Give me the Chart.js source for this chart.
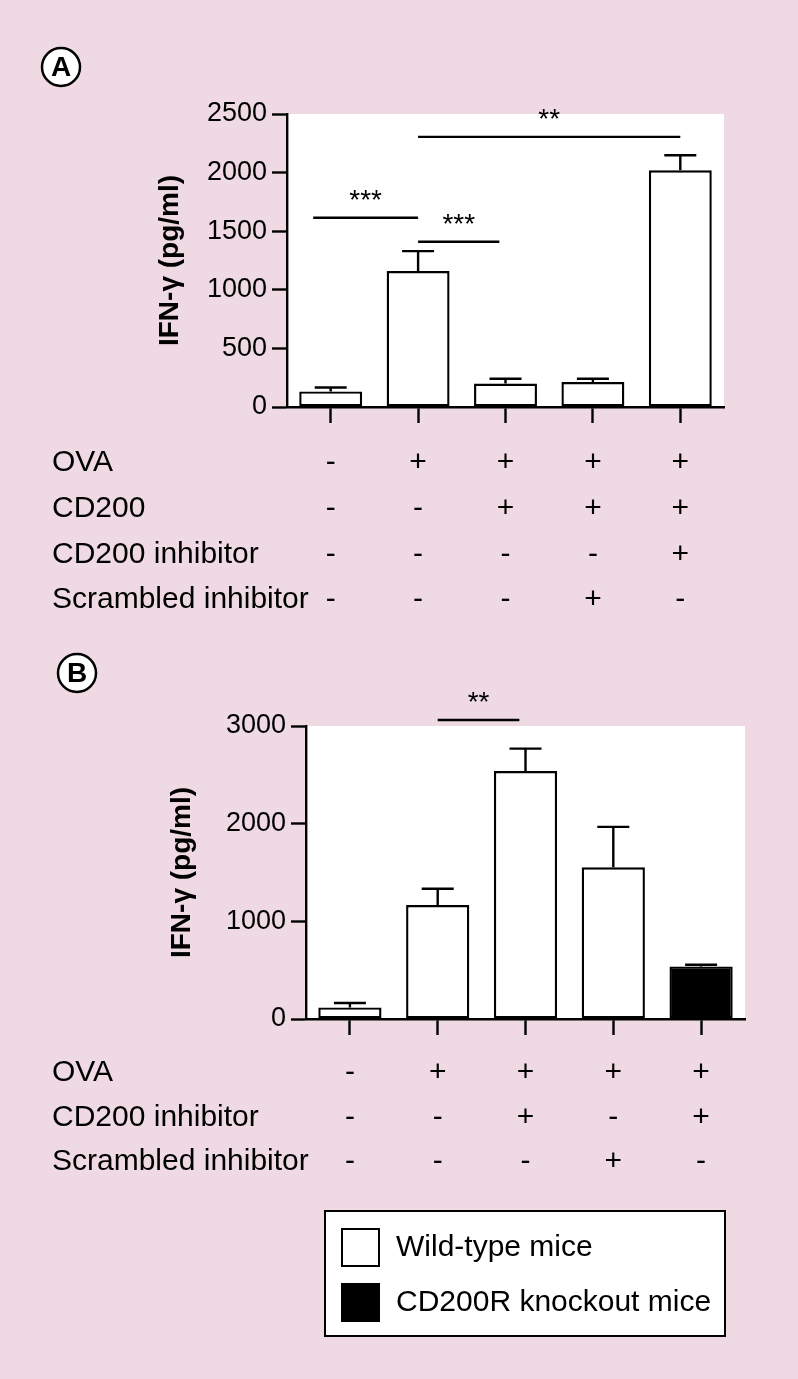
<!DOCTYPE html>
<html>
<head>
<meta charset="utf-8">
<title>IFN-γ</title>
<script src="https://cdn.jsdelivr.net/npm/chart.js@4/dist/chart.umd.min.js"></script>
<style>
    html, body { margin: 0; padding: 0; background: #efdae4; }
    #wrap { position: relative; width: 798px; height: 1379px; overflow: hidden; }
    canvas { position: absolute; left: 0; }
</style>
</head>
<body>
<div id="wrap">
    <canvas id="chartA" width="798" height="640" style="top:0"></canvas>
    <canvas id="chartB" width="798" height="739" style="top:640px"></canvas>
</div>
<script>
// values (pg/ml)
const groups = ["G1", "G2", "G3", "G4", "G5"];

const meansA = [133, 1160, 200, 213, 2020];
const errorsA = [34, 170, 41, 28, 128];
const ticksA = [0, 500, 1000, 1500, 2000, 2500];
const rowLabelsA = ["OVA", "CD200", "CD200 inhibitor", "Scrambled inhibitor"];
const rowSignsA = [
    ["-", "+", "+", "+", "+"],
    ["-", "-", "+", "+", "+"],
    ["-", "-", "-", "-", "+"],
    ["-", "-", "-", "+", "-"]
];
// significance bars: from/to in category index, y in pg/ml
const sigA = [
    { from: -0.2, to: 1, y: 1615, text: "***" },
    { from: 1, to: 1.93, y: 1410, text: "***" },
    { from: 1, to: 4, y: 2305, text: "**" }
];

const meansB = [119, 1166, 2539, 1554, 538];
const errorsB = [45, 167, 229, 413, 17];
const ticksB = [0, 1000, 2000, 3000];
const rowLabelsB = ["OVA", "CD200 inhibitor", "Scrambled inhibitor"];
const rowSignsB = [
    ["-", "+", "+", "+", "+"],
    ["-", "-", "+", "-", "+"],
    ["-", "-", "-", "+", "-"]
];
const sigB = [
    { from: 1, to: 1.93, y: 3061, text: "**" }
];
const mouseTypeB = [0, 0, 0, 0, 1];
const legendLabelsB = ["Wild-type mice", "CD200R knockout mice"];
const fillColors = ["#ffffff", "#000000"];

const FONT = "'Liberation Sans', Arial, Helvetica, sans-serif";
const LINE = 2.4;
Chart.defaults.font.family = FONT;
Chart.defaults.color = "#000";

function panelPlugin(p) {
    return {
        id: "panel" + p.letter,
        beforeDraw(chart) {
            const a = chart.chartArea;
            const ctx = chart.ctx;
            ctx.save();
            ctx.fillStyle = "#ffffff";
            ctx.fillRect(a.left, a.top, a.right - a.left, a.bottom - a.top);
            ctx.restore();
        },
        afterDatasetsDraw(chart) {
            const ctx = chart.ctx;
            const ys = chart.scales.y;
            const bars = chart.getDatasetMeta(0).data;
            ctx.save();
            ctx.strokeStyle = "#000";
            ctx.lineWidth = LINE;
            for (let i = 0; i < bars.length; i++) {
                const x = bars[i].x;
                const y0 = ys.getPixelForValue(p.means[i]);
                const y1 = ys.getPixelForValue(p.means[i] + p.errors[i]);
                ctx.beginPath();
                ctx.moveTo(x, y0);
                ctx.lineTo(x, y1);
                ctx.moveTo(x - 16, y1);
                ctx.lineTo(x + 16, y1);
                ctx.stroke();
            }
            ctx.restore();
        },
        afterDraw(chart) {
            const ctx = chart.ctx;
            const xs = chart.scales.x;
            const ys = chart.scales.y;
            ctx.save();
            ctx.strokeStyle = "#000";
            ctx.fillStyle = "#000";
            ctx.lineWidth = LINE;

            // significance lines
            ctx.font = "28px " + FONT;
            ctx.textAlign = "center";
            ctx.textBaseline = "alphabetic";
            for (let s of p.sig) {
                const x1 = xs.getPixelForValue(s.from);
                const x2 = xs.getPixelForValue(s.to);
                const y = ys.getPixelForValue(s.y);
                ctx.beginPath();
                ctx.moveTo(x1, y);
                ctx.lineTo(x2, y);
                ctx.stroke();
                ctx.fillText(s.text, (x1 + x2) / 2, y - 9);
            }

            // treatment table under the axis
            ctx.font = "30px " + FONT;
            ctx.textBaseline = "middle";
            for (let r = 0; r < p.rowLabels.length; r++) {
                const y = p.tableTop + r * p.rowGap;
                ctx.textAlign = "left";
                ctx.fillText(p.rowLabels[r], 52, y);
                ctx.textAlign = "center";
                for (let i = 0; i < groups.length; i++) {
                    ctx.fillText(p.rowSigns[r][i], xs.getPixelForValue(i), y);
                }
            }

            // panel letter
            ctx.beginPath();
            ctx.arc(p.circle[0], p.circle[1], 19, 0, Math.PI * 2);
            ctx.fillStyle = "#fff";
            ctx.fill();
            ctx.lineWidth = 2.5;
            ctx.stroke();
            ctx.fillStyle = "#000";
            ctx.font = "bold 28px " + FONT;
            ctx.textAlign = "center";
            ctx.fillText(p.letter, p.circle[0], p.circle[1] + 1);

            // legend box
            if (p.legend) {
                const L = p.legend;
                ctx.lineWidth = 2;
                ctx.fillStyle = "#fff";
                ctx.fillRect(L.x, L.y, L.w, L.h);
                ctx.strokeRect(L.x, L.y, L.w, L.h);
                ctx.font = "30px " + FONT;
                ctx.textAlign = "left";
                for (let k = 0; k < legendLabelsB.length; k++) {
                    const sy = L.y + 18 + k * 55;
                    ctx.fillStyle = fillColors[k];
                    ctx.fillRect(L.x + 17, sy, 37, 37);
                    ctx.strokeRect(L.x + 17, sy, 37, 37);
                    ctx.fillStyle = "#000";
                    ctx.fillText(legendLabelsB[k], L.x + 71, sy + 19);
                }
            }
            ctx.restore();
        }
    };
}

function makeChart(id, p) {
    return new Chart(document.getElementById(id), {
        type: "bar",
        data: {
            labels: groups,
            datasets: [{
                label: "IFN-γ",
                data: p.means,
                backgroundColor: p.colors,
                borderColor: "#000",
                borderWidth: LINE,
                borderSkipped: false,
                barPercentage: 0.72,
                categoryPercentage: 1
            }]
        },
        options: {
            responsive: false,
            animation: false,
            layout: {
                padding: { left: 0, top: p.area.top, right: p.width - p.area.right, bottom: 0 }
            },
            plugins: {
                legend: { display: false },
                tooltip: { enabled: false }
            },
            scales: {
                x: {
                    offset: true,
                    grid: {
                        offset: false,
                        drawOnChartArea: false,
                        drawTicks: true,
                        tickLength: 16,
                        tickWidth: LINE,
                        tickColor: "#000"
                    },
                    border: { color: "#000", width: LINE },
                    ticks: { callback: () => "" },
                    afterFit(scale) { scale.height = p.height - p.area.bottom; }
                },
                y: {
                    min: 0,
                    max: p.ticks[p.ticks.length - 1],
                    afterBuildTicks(axis) { axis.ticks = p.ticks.map(v => ({ value: v })); },
                    grid: {
                        drawOnChartArea: false,
                        tickLength: 15,
                        tickWidth: LINE,
                        tickColor: "#000"
                    },
                    border: { color: "#000", width: LINE },
                    ticks: {
                        padding: 5,
                        color: "#000",
                        font: { size: 27 },
                        callback: v => String(v)
                    },
                    title: {
                        display: true,
                        text: "IFN-γ (pg/ml)",
                        color: "#000",
                        font: { size: 28, weight: "bold" },
                        padding: { top: p.titleX - 17, bottom: 0 }
                    },
                    afterFit(scale) { scale.width = p.area.left; }
                }
            }
        },
        plugins: [panelPlugin(p)]
    });
}

makeChart("chartA", {
    letter: "A",
    means: meansA,
    errors: errorsA,
    ticks: ticksA,
    sig: sigA,
    rowLabels: rowLabelsA,
    rowSigns: rowSignsA,
    colors: groups.map(() => fillColors[0]),
    width: 798,
    height: 640,
    area: { left: 287, right: 724, top: 114, bottom: 407 },
    titleX: 170,
    tableTop: 463,
    rowGap: 45.7,
    circle: [61, 67]
});

makeChart("chartB", {
    letter: "B",
    means: meansB,
    errors: errorsB,
    ticks: ticksB,
    sig: sigB,
    rowLabels: rowLabelsB,
    rowSigns: rowSignsB,
    colors: mouseTypeB.map(t => fillColors[t]),
    width: 798,
    height: 739,
    area: { left: 306, right: 745, top: 86, bottom: 379 },
    titleX: 182,
    tableTop: 433,
    rowGap: 44.5,
    circle: [77, 33],
    legend: { x: 325, y: 571, w: 400, h: 125 }
});
</script>
</body>
</html>
